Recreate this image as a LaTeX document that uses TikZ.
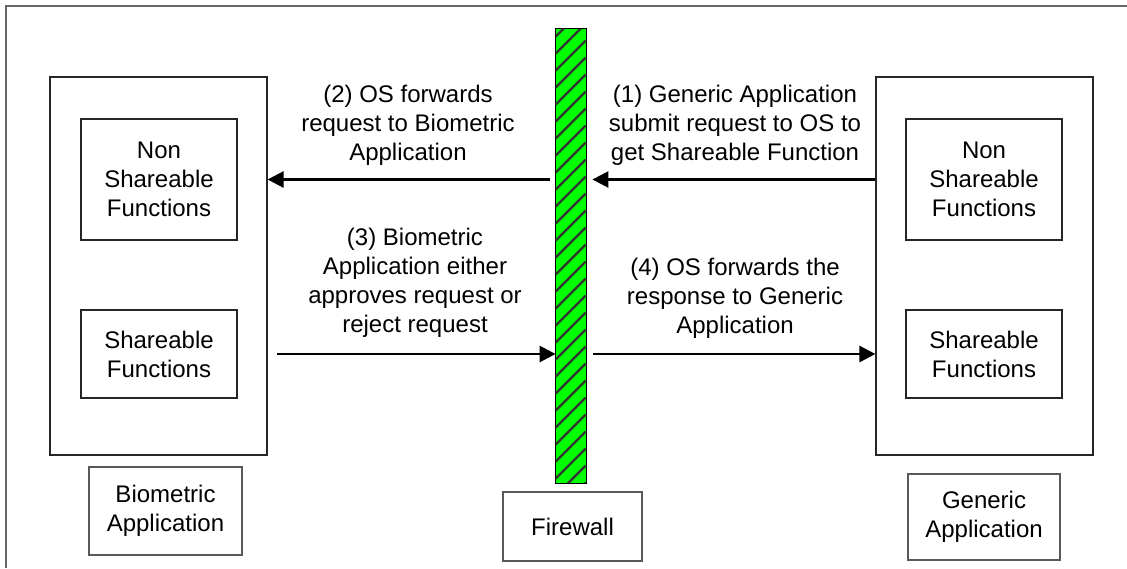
\documentclass[tikz,border=0pt]{standalone}
\usepackage{fontspec}
\setmainfont{Liberation Sans}
\usetikzlibrary{arrows.meta}
\begin{document}
\begin{tikzpicture}[x=0.5pt,y=-0.5pt,
		box/.style = {shape = rectangle,
		              draw = black!85,
		              line width = 0.6pt,
		              inner sep = 0pt,
		              align = center,
		              font = \fontsize{12}{14.5}\selectfont},
		tag/.style = {box, draw = black!65},
		msg/.style = {align = center,
		              inner sep = 0pt,
		              font = \fontsize{12}{14.5}\selectfont},
		hatch/.style = {line width = 1.1pt, draw = black!80},
		flow/.style = {line width = 1.3pt,
		               -{Triangle[length=8pt,width=8pt]}}]
		\useasboundingbox (0,0) rectangle (1127,568);
		\draw[black!60, line width=0.9pt] (6,568) -- (6,6) -- (1127,6);
		% biometric side
		\node[box, minimum width=108.5pt, minimum height=189pt] (lbox) at (158.5,266) {};
		\node[box, minimum width=78pt, minimum height=60.5pt] (nsl) at (159,179.5) {Non\\Shareable\\Functions};
		\node[box, minimum width=78pt, minimum height=44pt] (shl) at (159,354) {Shareable\\Functions};
		\node[tag, minimum width=76.5pt, minimum height=44pt] (bio) at (165.5,511) {Biometric\\Application};
		% firewall
		\node[fill = green, minimum width = 15pt, minimum height = 227pt, inner sep = 0pt] (fw) at (571,256) {};
		\begin{scope}
			\clip (fw.south west) rectangle (fw.north east);
			\foreach \k in {8,25,...,500}
				\draw[hatch] (fw.north west) ++(0,\k) -- ++(30,-30);
		\end{scope}
		\draw[line width = 0.6pt] (fw.south west) rectangle (fw.north east);
		\node[tag, minimum width=69.5pt, minimum height=34.5pt] (fwl) at (572.5,526.5) {Firewall};
		% generic side
		\node[box, minimum width=108.5pt, minimum height=189pt] (rbox) at (984.5,266) {};
		\node[box, minimum width=78pt, minimum height=60.5pt] (nsr) at (984,179.5) {Non\\Shareable\\Functions};
		\node[box, minimum width=78pt, minimum height=44pt] (shr) at (984,354) {Shareable\\Functions};
		\node[tag, minimum width=76pt, minimum height=43pt] (gen) at (984,517) {Generic\\Application};
		% messages
		\node[msg] (m1) at (735,125) {(1) Generic Application\\submit request to OS to\\get Shareable Function};
		\node[msg] (m2) at (408,125) {(2) OS forwards\\request to Biometric\\Application};
		\node[msg] (m3) at (415,283) {(3) Biometric\\Application either\\approves request or\\reject request};
		\node[msg] (m4) at (735,298) {(4) OS forwards the\\response to Generic\\Application};
		\draw[flow] (rbox.west |- nsr) -- ([xshift=3pt]fw.east |- nsr);
		\draw[flow] ([xshift=-3pt]fw.west |- nsl) -- (lbox.east |- nsl);
		\draw[flow] ([xshift=4.5pt]lbox.east |- shl) -- (fw.west |- shl);
		\draw[flow] ([xshift=3.5pt]fw.east |- shr) -- (rbox.west |- shr);
\end{tikzpicture}
\end{document}
